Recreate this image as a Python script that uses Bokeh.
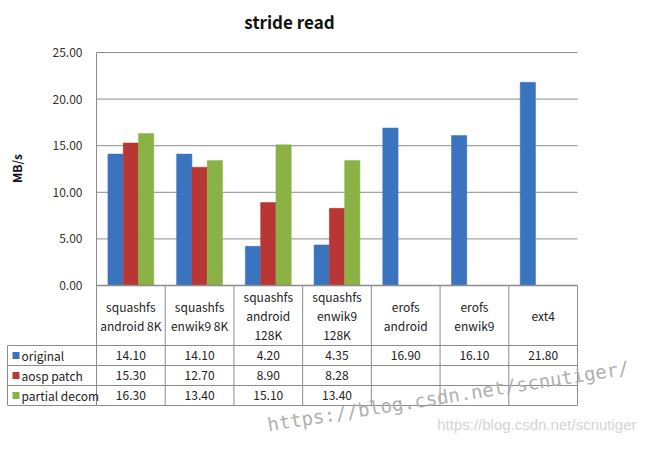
import math
from bokeh.plotting import figure
from bokeh.models import Range1d
from bokeh.core.properties import value
from bokeh.embed import file_html
from bokeh.resources import INLINE

# ---------------- data ----------------
categories = [
    ["squashfs", "android 8K"],
    ["squashfs", "enwik9 8K"],
    ["squashfs", "android", "128K"],
    ["squashfs", "enwik9", "128K"],
    ["erofs", "android"],
    ["erofs", "enwik9"],
    ["ext4"],
]
series_names = ["original", "aosp patch", "partial decom"]
original = [14.10, 14.10, 4.20, 4.35, 16.90, 16.10, 21.80]
aosp_patch = [15.30, 12.70, 8.90, 8.28, None, None, None]
partial_decom = [16.30, 13.40, 15.10, 13.40, None, None, None]
y_ticks = [0, 5, 10, 15, 20, 25]
title_text = "stride read"
y_label = "MB/s"
watermark = "https://blog.csdn.net/scnutiger/"
watermark2 = "https://blog.csdn.net/scnutiger"

series_values = [original, aosp_patch, partial_decom]
colors = ["#3a74bf", "#b83735", "#8bb244"]

# ---------------- layout (pixels of the picture) ----------------
W, H = 641, 434
PLOT_L, PLOT_R = 96, 577      # plot area left/right
Y_ZERO, Y_TOP = 285, 52       # px of value 0 and value 25
NCAT = len(categories)
ux = (PLOT_R - PLOT_L) / NCAT
uy = (Y_ZERO - Y_TOP) / y_ticks[-1]


def fx(px):
    return (px - PLOT_L) / ux


def fy(py):
    return (Y_ZERO - py) / uy


x_range = Range1d(fx(0), fx(W))
y_range = Range1d(fy(H), fy(0))

p = figure(width=W, height=H, x_range=x_range, y_range=y_range,
           output_backend="svg", toolbar_location=None,
           x_axis_location=None, y_axis_location=None, min_border=0,
           title=None)
p.grid.visible = False
p.outline_line_color = None
p.background_fill_color = "white"
p.border_fill_color = "white"

FONT = value("Noto Sans CJK KR")
GRID = "#8c8c8c"

# gridlines
gt = [t for t in y_ticks if t > 0]
p.segment(x0=[0] * len(gt), x1=[NCAT] * len(gt), y0=gt, y1=gt,
          line_color=GRID, line_width=1)

# bars
bw = 15.3 / ux
offsets = [-bw, 0, bw]
for vals, off, col in zip(series_values, offsets, colors):
    xs = [i + 0.5 + off for i in range(NCAT)]
    tops = [float("nan") if v is None else v for v in vals]
    p.vbar(x=xs, top=tops, bottom=0, width=bw, fill_color=col,
           line_color=col, line_width=0.5)

# x axis line
p.segment(x0=[0], x1=[NCAT], y0=[0], y1=[0], line_color=GRID, line_width=1.5)

# table
ROW_TOP = [345, 365, 385]
ROW_H = 20
TABLE_L = 7
TABLE_B = ROW_TOP[-1] + ROW_H
p.segment(x0=list(range(NCAT + 1)), x1=list(range(NCAT + 1)),
          y0=[fy(Y_TOP)] + [0] * NCAT, y1=[fy(TABLE_B)] * (NCAT + 1),
          line_color=GRID, line_width=1)
p.segment(x0=[fx(TABLE_L)], x1=[fx(TABLE_L)], y0=[fy(ROW_TOP[0])], y1=[fy(TABLE_B)],
          line_color=GRID, line_width=1)
hy = ROW_TOP + [TABLE_B]
p.segment(x0=[fx(TABLE_L)] * len(hy), x1=[NCAT] * len(hy),
          y0=[fy(v) for v in hy], y1=[fy(v) for v in hy],
          line_color=GRID, line_width=1)

# category labels
cx, cy, ct = [], [], []
HEAD_C = (Y_ZERO + ROW_TOP[0]) / 2
LINE_SP = 19
for i, lines in enumerate(categories):
    n = len(lines)
    for j, ln in enumerate(lines):
        cx.append(i + 0.5)
        cy.append(fy(HEAD_C + (j - (n - 1) / 2) * LINE_SP))
        ct.append(ln)
p.text(x=cx, y=cy, text=ct, text_font=FONT, text_font_size="12px",
       text_align="center", text_baseline="middle", text_color="#222222")

# values
vx, vy, vt = [], [], []
for r, vals in enumerate(series_values):
    for i, v in enumerate(vals):
        if v is None:
            continue
        vx.append(i + 0.5)
        vy.append(fy(ROW_TOP[r] + ROW_H / 2))
        vt.append("%.2f" % v)
p.text(x=vx, y=vy, text=vt, text_font=FONT, text_font_size="12px",
       text_align="center", text_baseline="middle", text_color="#222222")

# legend keys in table
ly = [fy(t + ROW_H / 2) for t in ROW_TOP]
p.rect(x=[fx(15.5)] * 3, y=ly, width=7, height=7, width_units="screen",
       height_units="screen", fill_color=colors, line_color=None)
p.text(x=[fx(21)] * 3, y=ly, text=series_names, text_font=FONT,
       text_font_size="12px", text_align="left", text_baseline="middle",
       text_color="#222222")

# y tick labels
p.text(x=[fx(82)] * len(y_ticks), y=y_ticks, text=["%.2f" % t for t in y_ticks],
       text_font=FONT, text_font_size="12px", text_align="right",
       text_baseline="middle", text_color="#333333")

# y axis title
p.text(x=[fx(16)], y=[fy(168)], text=[y_label], angle=math.pi / 2,
       text_font=FONT, text_font_size="12px", text_font_style="bold",
       text_align="center", text_baseline="middle", text_color="#111111")

# chart title
p.text(x=[fx(289)], y=[fy(21)], text=[title_text], text_font=FONT,
       text_font_size="17px", text_font_style="bold", text_align="center",
       text_baseline="middle", text_color="#111111")

# watermarks
p.text(x=[fx(267)], y=[fy(424)], text=[watermark], angle=math.radians(9),
       text_font=value("DejaVu Sans Mono"), text_font_size="19px",
       text_align="left", text_baseline="alphabetic", text_color="#b0b0b0")
p.text(x=[fx(636)], y=[fy(424)], text=[watermark2], angle=0,
       text_font=value("Liberation Sans"), text_font_size="15px",
       text_align="right", text_baseline="alphabetic", text_color="#d4d4d4")

open("out.html", "w").write(file_html(p, INLINE))
